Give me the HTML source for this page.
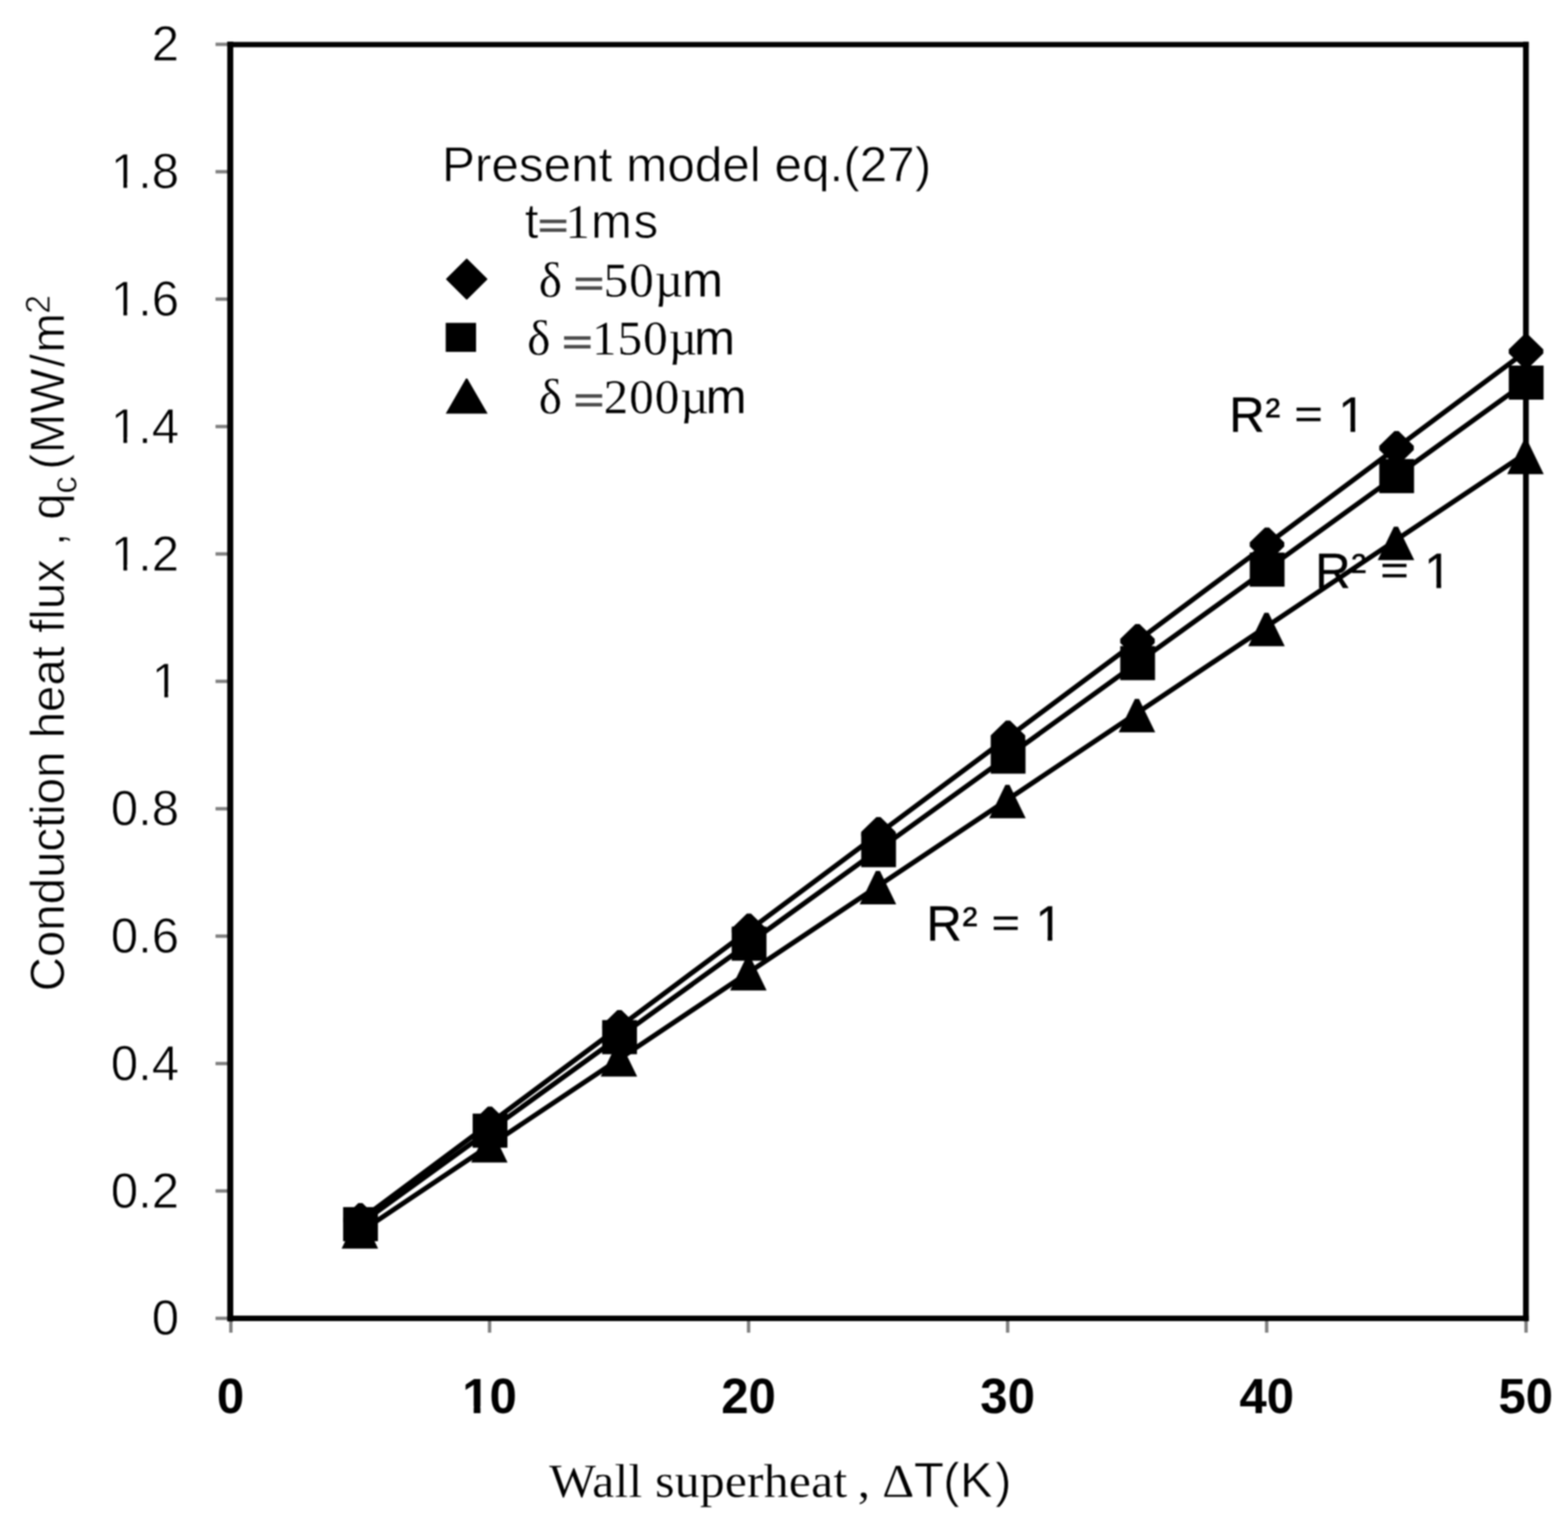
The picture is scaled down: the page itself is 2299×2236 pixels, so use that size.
<!DOCTYPE html>
<html lang="en"><head><meta charset="utf-8"><title>Conduction heat flux vs wall superheat</title>
<style>
html,body{margin:0;padding:0;background:#fff;}
body{width:2299px;height:2236px;overflow:hidden;}
svg{display:block;filter:blur(1.10px);}
text{fill:#000;font-family:"Liberation Sans",sans-serif;font-size:72px;white-space:pre;stroke:#fff;stroke-width:0.9px;}
.b{stroke:none;}
.se{stroke-width:0.3px;}
.se{font-family:"Liberation Serif",serif;}
.sa{font-family:"Liberation Sans",sans-serif;}
.b{font-weight:bold;}
.dj{font-family:"DejaVu Sans","Liberation Sans",sans-serif;font-size:62px;fill:#4c4c4c;stroke:none;}
.r2{font-size:72.0px;stroke:#000;stroke-width:0.5px;}
.yt{font-size:69.5px;}
.m{fill:#fff;stroke:none;}
</style></head><body>
<svg width="2299" height="2236" viewBox="0 0 2299 2236">
<rect x="0" y="0" width="2299" height="2236" fill="#fff"/>
<g id="labels">
<text class="r2 one" x="1802.3" y="633.3">R<tspan style="font-size:66px" dy="-3.8" dx="1">²</tspan><tspan dy="3.8" dx="1.6"> </tspan><tspan class="se" style="font-size:73px;stroke:#000;stroke-width:1.2px" dy="-1.1" dx="-0.9">=</tspan><tspan dy="1.1" dx="3.1"> 1</tspan></text>
<text class="r2 one" x="1928.3" y="861.7">R<tspan style="font-size:66px" dy="-3.8" dx="1">²</tspan><tspan dy="3.8" dx="1.6"> </tspan><tspan class="se" style="font-size:73px;stroke:#000;stroke-width:1.2px" dy="-1.1" dx="-0.9">=</tspan><tspan dy="1.1" dx="3.1"> 1</tspan></text>
<text class="r2 one" x="1358.2" y="1379.3">R<tspan style="font-size:66px" dy="-3.8" dx="1">²</tspan><tspan dy="3.8" dx="1.6"> </tspan><tspan class="se" style="font-size:73px;stroke:#000;stroke-width:1.2px" dy="-1.1" dx="-0.9">=</tspan><tspan dy="1.1" dx="3.1"> 1</tspan></text>
<text class="yl one" x="262.5" y="1957.3" text-anchor="end">0</text>
<text class="yl one" x="262.5" y="1770.5" text-anchor="end">0.2</text>
<text class="yl one" x="262.5" y="1583.7" text-anchor="end">0.4</text>
<text class="yl one" x="262.5" y="1396.9" text-anchor="end">0.6</text>
<text class="yl one" x="262.5" y="1210.1" text-anchor="end">0.8</text>
<text class="yl one" x="262.5" y="1023.3" text-anchor="end">1</text>
<text class="yl one" x="262.5" y="836.5" text-anchor="end">1.2</text>
<text class="yl one" x="262.5" y="649.7" text-anchor="end">1.4</text>
<text class="yl one" x="262.5" y="462.9" text-anchor="end">1.6</text>
<text class="yl one" x="262.5" y="276.1" text-anchor="end">1.8</text>
<text class="yl one" x="262.5" y="89.3" text-anchor="end">2</text>
<text class="b xl one" x="338.0" y="2072" text-anchor="middle">0</text>
<text class="b xl one" x="717.8" y="2072" text-anchor="middle">10</text>
<text class="b xl one" x="1097.6" y="2072" text-anchor="middle">20</text>
<text class="b xl one" x="1477.4" y="2072" text-anchor="middle">30</text>
<text class="b xl one" x="1857.2" y="2072" text-anchor="middle">40</text>
<text class="b xl one" x="2237.0" y="2072" text-anchor="middle">50</text>
<text x="648" y="265.5" style="font-size:72.5px">Present model eq.(27)</text>
<text x="769.5" y="349"><tspan class="sa">t</tspan><tspan class="dj" dy="1.6" dx="-4.5">=</tspan><tspan class="se" dy="-1.6" dx="-8">1</tspan><tspan class="sa" dx="1.5">m</tspan><tspan class="sa" dx="2.5">s</tspan></text>
<text class="se" x="790.0" y="434.5">δ <tspan class="dj" dy="1.6" dx="-4.5">=</tspan><tspan dy="-1.6" dx="-4.5" style="letter-spacing:1.5px">50µ</tspan><tspan class="sa" dx="-3.0">m</tspan></text>
<text class="se" x="773.0" y="520.0">δ <tspan class="dj" dy="1.6" dx="-4.5">=</tspan><tspan dy="-1.6" dx="-4.5" style="letter-spacing:1.5px">150µ</tspan><tspan class="sa" dx="-5.6">m</tspan></text>
<text class="se" x="790.0" y="605.5">δ <tspan class="dj" dy="1.6" dx="-4.5">=</tspan><tspan dy="-1.6" dx="-4.5" style="letter-spacing:1.5px">200µ</tspan><tspan class="sa" dx="-5.6">m</tspan></text>
<text class="se" transform="translate(805,2195.2) scale(1,0.945)" x="0" y="0" style="font-size:73px;letter-spacing:0.25px">Wall superheat<tspan dx="-3.5"> ,</tspan><tspan dx="-1"> Δ</tspan></text>
<text x="1340" y="2195.2"><tspan>T</tspan><tspan dx="-1">(</tspan><tspan dx="0.5">K</tspan><tspan dx="3.5">)</tspan></text>
<text class="yt" transform="translate(93.5,1453.5) rotate(-90)" x="0" y="0">Conduction heat flux , q<tspan style="font-size:51px" dy="18" dx="-0.5">c </tspan><tspan dy="-18" dx="-4.5">(</tspan><tspan dx="1">M</tspan><tspan dx="0.5">W</tspan><tspan dx="2">/</tspan><tspan dx="2">m</tspan><tspan style="font-size:50px" dy="-21" dx="-1">2</tspan></text>
</g>
<g id="masks">
<rect class="m" x="1964.76" y="624.92" width="15.37" height="11.38"/>
<rect class="m" x="1986.99" y="624.92" width="14.81" height="11.38"/>
<rect class="m" x="2090.76" y="853.32" width="15.37" height="11.38"/>
<rect class="m" x="2112.99" y="853.32" width="14.81" height="11.38"/>
<rect class="m" x="1520.66" y="1370.92" width="15.37" height="11.38"/>
<rect class="m" x="1542.89" y="1370.92" width="14.81" height="11.38"/>
<rect class="m" x="224.94" y="1014.92" width="16.07" height="11.38"/>
<rect class="m" x="246.47" y="1014.92" width="15.51" height="11.38"/>
<rect class="m" x="164.89" y="828.12" width="16.07" height="11.38"/>
<rect class="m" x="186.43" y="828.12" width="15.51" height="11.38"/>
<rect class="m" x="164.89" y="641.32" width="16.07" height="11.38"/>
<rect class="m" x="186.43" y="641.32" width="15.51" height="11.38"/>
<rect class="m" x="164.89" y="454.52" width="16.07" height="11.38"/>
<rect class="m" x="186.43" y="454.52" width="15.51" height="11.38"/>
<rect class="m" x="164.89" y="267.72" width="16.07" height="11.38"/>
<rect class="m" x="186.43" y="267.72" width="15.51" height="11.38"/>
<rect class="m" x="679.29" y="2061.65" width="15.27" height="13.35"/>
<rect class="m" x="704.44" y="2061.65" width="14.36" height="13.35"/>
</g>
<g stroke="#808080" stroke-width="5.0" fill="none">
<line x1="316.0" y1="1933.0" x2="338.5" y2="1933.0"/>
<line x1="316.0" y1="1746.2" x2="338.5" y2="1746.2"/>
<line x1="316.0" y1="1559.4" x2="338.5" y2="1559.4"/>
<line x1="316.0" y1="1372.6" x2="338.5" y2="1372.6"/>
<line x1="316.0" y1="1185.8" x2="338.5" y2="1185.8"/>
<line x1="316.0" y1="999.0" x2="338.5" y2="999.0"/>
<line x1="316.0" y1="812.2" x2="338.5" y2="812.2"/>
<line x1="316.0" y1="625.4" x2="338.5" y2="625.4"/>
<line x1="316.0" y1="438.6" x2="338.5" y2="438.6"/>
<line x1="316.0" y1="251.8" x2="338.5" y2="251.8"/>
<line x1="316.0" y1="65.0" x2="338.5" y2="65.0"/>
<line x1="338.5" y1="1933.0" x2="338.5" y2="1954.0"/>
<line x1="717.8" y1="1933.0" x2="717.8" y2="1954.0"/>
<line x1="1097.6" y1="1933.0" x2="1097.6" y2="1954.0"/>
<line x1="1477.4" y1="1933.0" x2="1477.4" y2="1954.0"/>
<line x1="1857.2" y1="1933.0" x2="1857.2" y2="1954.0"/>
<line x1="2237.5" y1="1933.0" x2="2237.5" y2="1954.0"/>
</g>
<g stroke="#000" fill="none" stroke-linecap="square">
<line x1="337.6" y1="65.4" x2="337.6" y2="1933.0" stroke-width="8.8"/>
<line x1="2237.3" y1="65.4" x2="2237.3" y2="1933.0" stroke-width="8.4"/>
<line x1="337.6" y1="65.4" x2="2237.3" y2="65.4" stroke-width="7.8"/>
<line x1="337.6" y1="1933.0" x2="2237.3" y2="1933.0" stroke-width="8.1"/>
</g>
<g stroke="#000" stroke-width="7.2" fill="none">
<polyline points="528.4,1788.6 718.3,1647.1 908.2,1505.6 1098.1,1364.1 1288.0,1222.6 1477.9,1081.1 1667.8,939.6 1857.7,798.1 2047.6,656.6 2237.5,515.1"/>
<polyline points="528.4,1794.3 718.3,1657.2 908.2,1520.1 1098.1,1383.0 1288.0,1245.9 1477.9,1108.8 1667.8,971.7 1857.7,834.6 2047.6,697.5 2237.5,560.4"/>
<polyline points="528.4,1806.2 718.3,1679.3 908.2,1552.5 1098.1,1425.6 1288.0,1298.8 1477.9,1171.9 1667.8,1045.0 1857.7,918.2 2047.6,791.3 2237.5,664.5"/>
</g>
<g fill="#000" stroke="none">
<polygon points="525.4,1764.1 531.4,1764.1 553.7,1785.8 553.7,1791.8 531.4,1813.5 525.4,1813.5 503.1,1791.8 503.1,1785.8"/>
<polygon points="715.3,1622.6 721.3,1622.6 743.6,1644.3 743.6,1650.3 721.3,1672.0 715.3,1672.0 693.0,1650.3 693.0,1644.3"/>
<polygon points="905.2,1481.1 911.2,1481.1 933.5,1502.8 933.5,1508.8 911.2,1530.5 905.2,1530.5 882.9,1508.8 882.9,1502.8"/>
<polygon points="1095.1,1339.6 1101.1,1339.6 1123.4,1361.3 1123.4,1367.3 1101.1,1389.0 1095.1,1389.0 1072.8,1367.3 1072.8,1361.3"/>
<polygon points="1285.0,1198.1 1291.0,1198.1 1313.3,1219.8 1313.3,1225.8 1291.0,1247.5 1285.0,1247.5 1262.7,1225.8 1262.7,1219.8"/>
<polygon points="1474.9,1056.6 1480.9,1056.6 1503.2,1078.3 1503.2,1084.3 1480.9,1106.0 1474.9,1106.0 1452.6,1084.3 1452.6,1078.3"/>
<polygon points="1664.8,915.1 1670.8,915.1 1693.1,936.8 1693.1,942.8 1670.8,964.5 1664.8,964.5 1642.5,942.8 1642.5,936.8"/>
<polygon points="1854.7,773.6 1860.7,773.6 1883.0,795.3 1883.0,801.3 1860.7,823.0 1854.7,823.0 1832.4,801.3 1832.4,795.3"/>
<polygon points="2044.6,632.1 2050.6,632.1 2072.9,653.8 2072.9,659.8 2050.6,681.5 2044.6,681.5 2022.3,659.8 2022.3,653.8"/>
<polygon points="2234.5,490.6 2240.5,490.6 2262.8,512.3 2262.8,518.3 2240.5,540.0 2234.5,540.0 2212.2,518.3 2212.2,512.3"/>
<rect x="503.1" y="1769.9" width="51.0" height="50.0"/>
<rect x="693.0" y="1632.8" width="51.0" height="50.0"/>
<rect x="882.9" y="1495.7" width="51.0" height="50.0"/>
<rect x="1072.8" y="1358.6" width="51.0" height="50.0"/>
<rect x="1262.7" y="1221.5" width="51.0" height="50.0"/>
<rect x="1452.6" y="1084.4" width="51.0" height="50.0"/>
<rect x="1642.5" y="947.3" width="51.0" height="50.0"/>
<rect x="1832.4" y="810.2" width="51.0" height="50.0"/>
<rect x="2022.3" y="673.1" width="51.0" height="50.0"/>
<rect x="2212.2" y="536.0" width="51.0" height="50.0"/>
<polygon points="524.6,1781.7 530.6,1781.7 554.4,1830.7 500.9,1830.7"/>
<polygon points="714.5,1655.5 720.5,1655.5 744.2,1704.5 690.8,1704.5"/>
<polygon points="904.4,1529.4 910.4,1529.4 934.2,1578.4 880.7,1578.4"/>
<polygon points="1094.3,1403.2 1100.3,1403.2 1124.0,1452.2 1070.5,1452.2"/>
<polygon points="1284.2,1277.0 1290.2,1277.0 1314.0,1326.0 1260.5,1326.0"/>
<polygon points="1474.1,1150.8 1480.1,1150.8 1503.9,1199.8 1450.4,1199.8"/>
<polygon points="1664.0,1024.7 1670.0,1024.7 1693.8,1073.7 1640.2,1073.7"/>
<polygon points="1853.9,898.5 1859.9,898.5 1883.7,947.5 1830.2,947.5"/>
<polygon points="2043.8,772.3 2049.8,772.3 2073.6,821.3 2020.0,821.3"/>
<polygon points="2233.7,646.2 2239.7,646.2 2263.4,695.2 2209.9,695.2"/>
<polygon points="683.8,379.3 684.8,379.3 714.5,408.8 714.5,409.8 684.8,439.3 683.8,439.3 654.1,409.8 654.1,408.8"/>
<rect x="653.5" y="473.4" width="44.5" height="42.5"/>
<polygon points="683.2,554.9 685.2,554.9 715.0,606.4 653.5,606.4"/>
</g>
</svg>
</body></html>
